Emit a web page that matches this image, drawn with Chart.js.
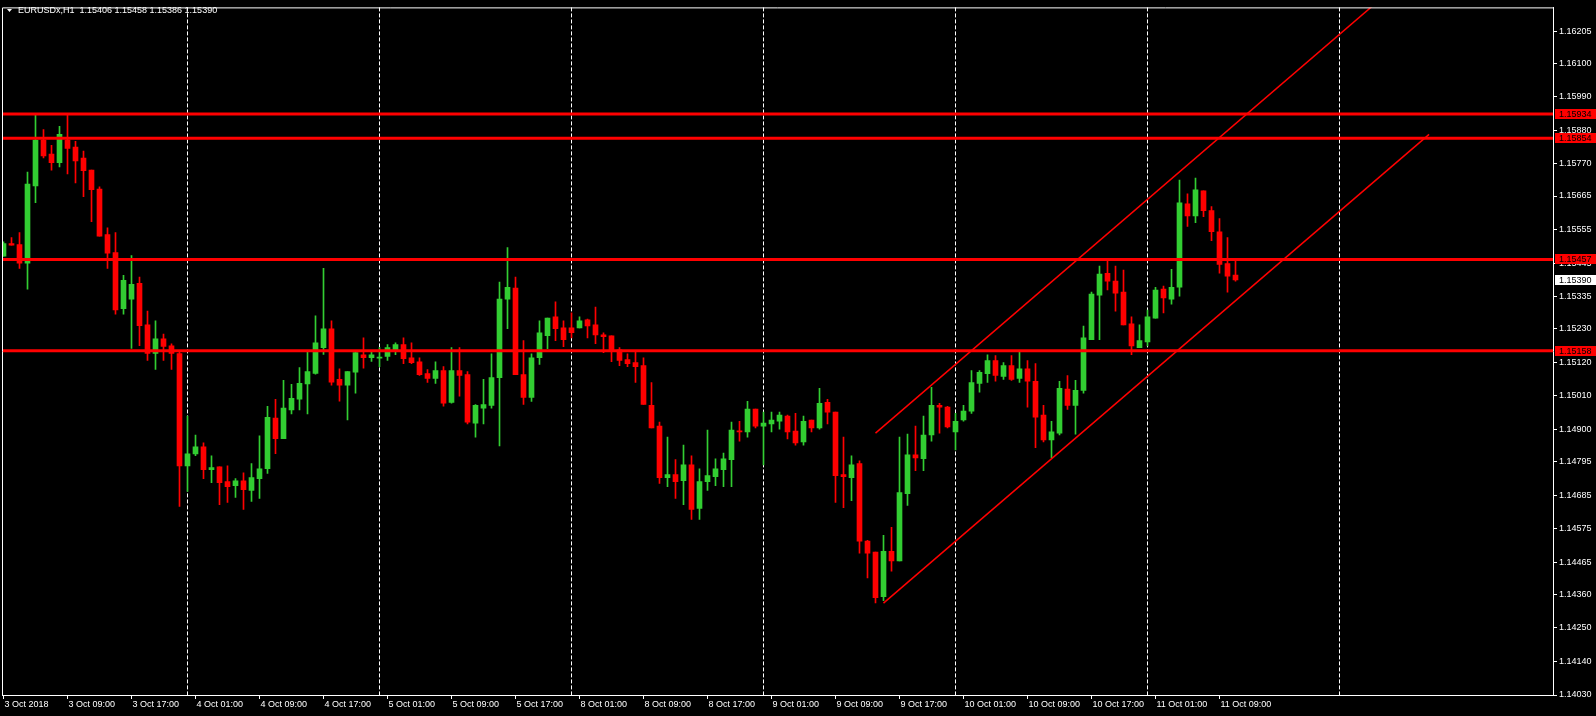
<!DOCTYPE html>
<html>
<head>
<meta charset="utf-8">
<title>EURUSDx,H1</title>
<script src="https://cdn.jsdelivr.net/npm/chart.js@4.4.1/dist/chart.umd.min.js"></script>
<style>
  html, body { margin: 0; padding: 0; background: #000; }
  #wrap { width: 1596px; height: 716px; }
</style>
</head>
<body>
<div id="wrap"><canvas id="priceChart" width="1596" height="716"></canvas></div>
<script>
// EURUSDx H1 candles, first bar = 3 Oct 2018 01:00
const symbolTitle = 'EURUSDx,H1';

const opens = [
  1.15468, 1.15509, 1.15506, 1.15445, 1.15698, 1.15848, 1.15802, 1.15774, 1.15848, 1.15825,
  1.15789, 1.15750, 1.15688, 1.15539, 1.15480, 1.15296, 1.15327, 1.15379, 1.15243, 1.15149,
  1.15197, 1.15174, 1.15149, 1.14781, 1.14820, 1.14843, 1.14768, 1.14778, 1.14729, 1.14716,
  1.14732, 1.14700, 1.14739, 1.14772, 1.14937, 1.14870, 1.14964, 1.14999, 1.15049, 1.15084,
  1.15168, 1.15230, 1.15064, 1.15045, 1.15088, 1.15145, 1.15135, 1.15134, 1.15139, 1.15161,
  1.15178, 1.15135, 1.15122, 1.15083, 1.15067, 1.15093, 1.14989, 1.15093, 1.15080, 1.14921,
  1.14970, 1.14979, 1.15070, 1.15327, 1.15363, 1.15080, 1.15005, 1.15135, 1.15207, 1.15269,
  1.15233, 1.15233, 1.15233, 1.15259, 1.15243, 1.15210, 1.15207, 1.15161, 1.15129, 1.15119,
  1.15109, 1.14979, 1.14911, 1.14742, 1.14752, 1.14732, 1.14784, 1.14641, 1.14729, 1.14745,
  1.14768, 1.14801, 1.14895, 1.14892, 1.14967, 1.14911, 1.14918, 1.14927, 1.14944, 1.14895,
  1.14859, 1.14931, 1.14905, 1.14989, 1.14957, 1.14752, 1.14742, 1.14788, 1.14534, 1.14498,
  1.14352, 1.14501, 1.14469, 1.14690, 1.14817, 1.14804, 1.14882, 1.14979, 1.14973, 1.14892,
  1.14931, 1.14960, 1.15051, 1.15083, 1.15126, 1.15074, 1.15109, 1.15067, 1.15099, 1.15058,
  1.14947, 1.14866, 1.14888, 1.15032, 1.14979, 1.15028, 1.15194, 1.15340, 1.15412, 1.15386,
  1.15350, 1.15246, 1.15168, 1.15187, 1.15265, 1.15360, 1.15327, 1.15366, 1.15639, 1.15600,
  1.15682, 1.15617, 1.15548, 1.15444, 1.15406
];
const highs = [
  1.15515, 1.15529, 1.15545, 1.15743, 1.15930, 1.15883, 1.15831, 1.15893, 1.15930, 1.15844,
  1.15812, 1.15750, 1.15695, 1.15561, 1.15545, 1.15405, 1.15470, 1.15399, 1.15288, 1.15256,
  1.15213, 1.15181, 1.15155, 1.14944, 1.14882, 1.14856, 1.14814, 1.14778, 1.14781, 1.14739,
  1.14758, 1.14788, 1.14879, 1.14976, 1.14999, 1.15061, 1.15048, 1.15103, 1.15155, 1.15272,
  1.15428, 1.15256, 1.15099, 1.15090, 1.15155, 1.15200, 1.15155, 1.15168, 1.15178, 1.15184,
  1.15200, 1.15184, 1.15135, 1.15096, 1.15122, 1.15106, 1.15168, 1.15168, 1.15090, 1.14982,
  1.15064, 1.15148, 1.15383, 1.15496, 1.15399, 1.15191, 1.15148, 1.15256, 1.15265, 1.15318,
  1.15256, 1.15282, 1.15269, 1.15262, 1.15301, 1.15217, 1.15207, 1.15168, 1.15148, 1.15155,
  1.15135, 1.15054, 1.14924, 1.14875, 1.14801, 1.14849, 1.14814, 1.14771, 1.14898, 1.14804,
  1.14823, 1.14924, 1.14927, 1.14992, 1.14967, 1.14957, 1.14957, 1.14957, 1.14947, 1.14953,
  1.14944, 1.14931, 1.15035, 1.14999, 1.14957, 1.14875, 1.14814, 1.14797, 1.14537, 1.14498,
  1.14553, 1.14579, 1.14875, 1.14885, 1.14911, 1.14944, 1.15038, 1.14986, 1.14976, 1.14953,
  1.14979, 1.15093, 1.15093, 1.15145, 1.15142, 1.15119, 1.15142, 1.15155, 1.15126, 1.15116,
  1.14979, 1.14927, 1.15058, 1.15077, 1.15061, 1.15239, 1.15350, 1.15435, 1.15454, 1.15435,
  1.15422, 1.15269, 1.15243, 1.15291, 1.15366, 1.15370, 1.15425, 1.15717, 1.15672, 1.15724,
  1.15682, 1.15630, 1.15591, 1.15529, 1.15458
];
const lows = [
  1.15468, 1.15504, 1.15428, 1.15360, 1.15643, 1.15790, 1.15750, 1.15760, 1.15737, 1.15708,
  1.15663, 1.15581, 1.15533, 1.15428, 1.15278, 1.15278, 1.15166, 1.15175, 1.15126, 1.15097,
  1.15126, 1.15097, 1.14648, 1.14697, 1.14814, 1.14739, 1.14726, 1.14654, 1.14661, 1.14677,
  1.14638, 1.14664, 1.14674, 1.14756, 1.14821, 1.14870, 1.14951, 1.14964, 1.14951, 1.15081,
  1.15146, 1.15045, 1.14993, 1.14931, 1.15019, 1.15101, 1.15123, 1.15106, 1.15126, 1.15145,
  1.15116, 1.15116, 1.15077, 1.15054, 1.15051, 1.14976, 1.14986, 1.15009, 1.14918, 1.14875,
  1.14918, 1.14970, 1.14846, 1.15230, 1.15080, 1.14982, 1.14992, 1.15113, 1.15165, 1.15191,
  1.15171, 1.15200, 1.15233, 1.15200, 1.15181, 1.15152, 1.15122, 1.15109, 1.15106, 1.15054,
  1.14982, 1.14905, 1.14723, 1.14713, 1.14674, 1.14654, 1.14605, 1.14605, 1.14700, 1.14716,
  1.14713, 1.14713, 1.14862, 1.14875, 1.14905, 1.14784, 1.14892, 1.14901, 1.14869, 1.14849,
  1.14849, 1.14892, 1.14901, 1.14918, 1.14661, 1.14644, 1.14667, 1.14495, 1.14414, 1.14332,
  1.14339, 1.14436, 1.14469, 1.14651, 1.14765, 1.14765, 1.14862, 1.14888, 1.14905, 1.14833,
  1.14927, 1.14953, 1.15022, 1.15054, 1.15058, 1.15064, 1.15061, 1.15054, 1.14973, 1.14840,
  1.14859, 1.14807, 1.14882, 1.14966, 1.14885, 1.15019, 1.15194, 1.15194, 1.15357, 1.15288,
  1.15243, 1.15145, 1.15168, 1.15174, 1.15265, 1.15282, 1.15311, 1.15337, 1.15565, 1.15578,
  1.15597, 1.15519, 1.15412, 1.15350, 1.15386
];
const closes = [
  1.15509, 1.15504, 1.15445, 1.15704, 1.15848, 1.15796, 1.15774, 1.15867, 1.15821, 1.15780,
  1.15748, 1.15686, 1.15533, 1.15478, 1.15292, 1.15389, 1.15376, 1.15240, 1.15149, 1.15197,
  1.15172, 1.15149, 1.14781, 1.14820, 1.14843, 1.14768, 1.14775, 1.14726, 1.14713, 1.14732,
  1.14703, 1.14742, 1.14771, 1.14940, 1.14870, 1.14970, 1.15002, 1.15051, 1.15090, 1.15184,
  1.15230, 1.15055, 1.15045, 1.15090, 1.15152, 1.15135, 1.15145, 1.15135, 1.15168, 1.15178,
  1.15132, 1.15119, 1.15080, 1.15067, 1.15093, 1.14986, 1.15093, 1.15077, 1.14924, 1.14979,
  1.14982, 1.15070, 1.15327, 1.15366, 1.15080, 1.15005, 1.15135, 1.15217, 1.15265, 1.15230,
  1.15194, 1.15217, 1.15256, 1.15239, 1.15210, 1.15204, 1.15161, 1.15126, 1.15116, 1.15106,
  1.14982, 1.14905, 1.14742, 1.14752, 1.14729, 1.14784, 1.14638, 1.14729, 1.14749, 1.14771,
  1.14804, 1.14898, 1.14892, 1.14967, 1.14911, 1.14921, 1.14931, 1.14947, 1.14892, 1.14856,
  1.14927, 1.14905, 1.14986, 1.14957, 1.14749, 1.14745, 1.14784, 1.14534, 1.14495, 1.14349,
  1.14501, 1.14469, 1.14693, 1.14817, 1.14807, 1.14882, 1.14979, 1.14973, 1.14908, 1.14927,
  1.14960, 1.15054, 1.15087, 1.15126, 1.15077, 1.15109, 1.15064, 1.15099, 1.15058, 1.14940,
  1.14866, 1.14892, 1.15035, 1.14979, 1.15028, 1.15200, 1.15344, 1.15409, 1.15386, 1.15347,
  1.15243, 1.15174, 1.15191, 1.15269, 1.15357, 1.15331, 1.15366, 1.15643, 1.15600, 1.15685,
  1.15617, 1.15548, 1.15441, 1.15402, 1.15390
];

const xTickBars = [0, 8, 16, 24, 32, 40, 48, 56, 64, 72, 80, 88, 96, 104, 112, 120, 128, 136, 144, 152];
const xTickLabels = [
  '3 Oct 2018', '3 Oct 09:00', '3 Oct 17:00', '4 Oct 01:00', '4 Oct 09:00', '4 Oct 17:00',
  '5 Oct 01:00', '5 Oct 09:00', '5 Oct 17:00', '8 Oct 01:00', '8 Oct 09:00', '8 Oct 17:00',
  '9 Oct 01:00', '9 Oct 09:00', '9 Oct 17:00', '10 Oct 01:00', '10 Oct 09:00', '10 Oct 17:00',
  '11 Oct 01:00', '11 Oct 09:00'
];
// bars where a new day starts (00:00)
const daySeparators = [23, 47, 71, 95, 119, 143, 167];

const yTickLabels = [
  '1.14030', '1.14140', '1.14250', '1.14360', '1.14465', '1.14575', '1.14685', '1.14795',
  '1.14900', '1.15010', '1.15120', '1.15230', '1.15335', '1.15445', '1.15555', '1.15665',
  '1.15770', '1.15880', '1.15990', '1.16100', '1.16205'
];

const levelLines = [1.15934, 1.15854, 1.15457, 1.15158];
const upperChannel = [[109, 1.14888], [178.2, 1.16447]];
const lowerChannel = [[110, 1.14331], [178.2, 1.15867]];
const lastPrice = 1.15390;

const GREEN = '#32CD32';
const RED = '#FF0000';

function initializePriceChart() {
    const ctx = document.getElementById('priceChart').getContext('2d');
    Chart.defaults.font.family = "'Liberation Sans', Arial, sans-serif";
    Chart.defaults.font.size = 9;

    const idx = opens.map((_, i) => i);
    const colors = idx.map(i => closes[i] >= opens[i] ? GREEN : RED);

    const levelSets = levelLines.map(v => ({
        type: 'line',
        data: [{ x: -1, y: v }, { x: 200, y: v }],
        borderColor: RED,
        borderWidth: 3,
        pointRadius: 0,
        clip: 0,
        order: 0
    }));

    const channelSets = [upperChannel, lowerChannel].map(line => ({
        type: 'line',
        data: line.map(p => ({ x: p[0], y: p[1] })),
        borderColor: RED,
        borderWidth: 1.5,
        pointRadius: 0,
        clip: 0,
        order: 0
    }));

    // draws day separators, frame, price tags and the header
    const mtDecor = {
        id: 'mtDecor',
        beforeDatasetsDraw(chart) {
            const { ctx, chartArea, scales } = chart;
            ctx.save();
            ctx.strokeStyle = '#ffffff';
            ctx.lineWidth = 1;
            ctx.setLineDash([4, 2]);
            daySeparators.forEach(b => {
                const x = scales.x.getPixelForValue(b);
                ctx.beginPath();
                ctx.moveTo(x, chartArea.top);
                ctx.lineTo(x, chartArea.bottom);
                ctx.stroke();
            });
            ctx.restore();
        },
        afterDraw(chart) {
            const { ctx, chartArea, scales } = chart;
            ctx.save();
            ctx.strokeStyle = '#ffffff';
            ctx.lineWidth = 1;
            ctx.beginPath();
            ctx.moveTo(chartArea.left + 0.5, chartArea.bottom);
            ctx.lineTo(chartArea.left + 0.5, chartArea.top + 0.5);
            ctx.lineTo(chartArea.right, chartArea.top + 0.5);
            ctx.stroke();

            ctx.font = "9px 'Liberation Sans', Arial, sans-serif";
            ctx.textBaseline = 'middle';
            const tag = (v, bg) => {
                const y = Math.round(scales.y.getPixelForValue(v));
                ctx.fillStyle = bg;
                ctx.fillRect(chartArea.right + 2, y - 5, 41, 10);
                ctx.fillStyle = '#000';
                ctx.fillText(v.toFixed(5), chartArea.right + 6, y + 0.5);
            };
            levelLines.forEach(v => tag(v, RED));
            tag(lastPrice, '#ffffff');

            // header
            ctx.fillStyle = '#ffffff';
            ctx.beginPath();
            ctx.moveTo(7, 9);
            ctx.lineTo(12, 9);
            ctx.lineTo(9.5, 12);
            ctx.closePath();
            ctx.fill();
            ctx.textBaseline = 'middle';
            const head = symbolTitle + '  ' + [opens, highs, lows, closes]
                .map(a => a[a.length - 1].toFixed(5)).join(' ');
            ctx.fillText(head, 18, 11);
            ctx.restore();
        }
    };

    const config = {
        type: 'bar',
        data: {
            datasets: [
                ...levelSets,
                ...channelSets,
                {
                    type: 'bar',
                    data: idx.map(i => ({ x: i, y: [opens[i], closes[i]] })),
                    backgroundColor: colors,
                    barThickness: 5,
                    minBarLength: 1,
                    grouped: false,
                    order: 1
                },
                {
                    type: 'bar',
                    data: idx.map(i => ({ x: i, y: [lows[i], highs[i]] })),
                    backgroundColor: colors,
                    barThickness: 1,
                    minBarLength: 1,
                    grouped: false,
                    order: 2
                }
            ]
        },
        options: {
            responsive: false,
            animation: false,
            devicePixelRatio: 1,
            layout: { padding: { left: 2, top: 2, right: 0, bottom: 0 } },
            plugins: {
                legend: { display: false },
                tooltip: { enabled: false }
            },
            scales: {
                x: {
                    type: 'linear',
                    min: -0.1875,
                    max: 193.6875,
                    offset: false,
                    afterBuildTicks: s => { s.ticks = xTickBars.map(v => ({ value: v })); },
                    afterFit: s => { s.height = 21; },
                    border: { color: '#ffffff' },
                    grid: { drawOnChartArea: false, offset: false, color: '#ffffff', tickLength: 4 },
                    ticks: {
                        color: '#ffffff',
                        autoSkip: false,
                        maxRotation: 0,
                        align: 'start',
                        padding: 0,
                        labelOffset: 1,
                        callback: (v, i) => xTickLabels[i]
                    }
                },
                y: {
                    position: 'right',
                    min: 1.14030,
                    max: 1.16283,
                    afterBuildTicks: s => { s.ticks = yTickLabels.map(t => ({ value: parseFloat(t) })); },
                    afterFit: s => { s.width = 43; },
                    border: { color: '#ffffff' },
                    grid: { drawOnChartArea: false, color: '#ffffff', tickLength: 4 },
                    ticks: {
                        color: '#ffffff',
                        padding: 2,
                        callback: (v, i) => yTickLabels[i]
                    }
                }
            }
        },
        plugins: [mtDecor]
    };

    new Chart(ctx, config);
}

document.addEventListener('DOMContentLoaded', initializePriceChart);
</script>
</body>
</html>
